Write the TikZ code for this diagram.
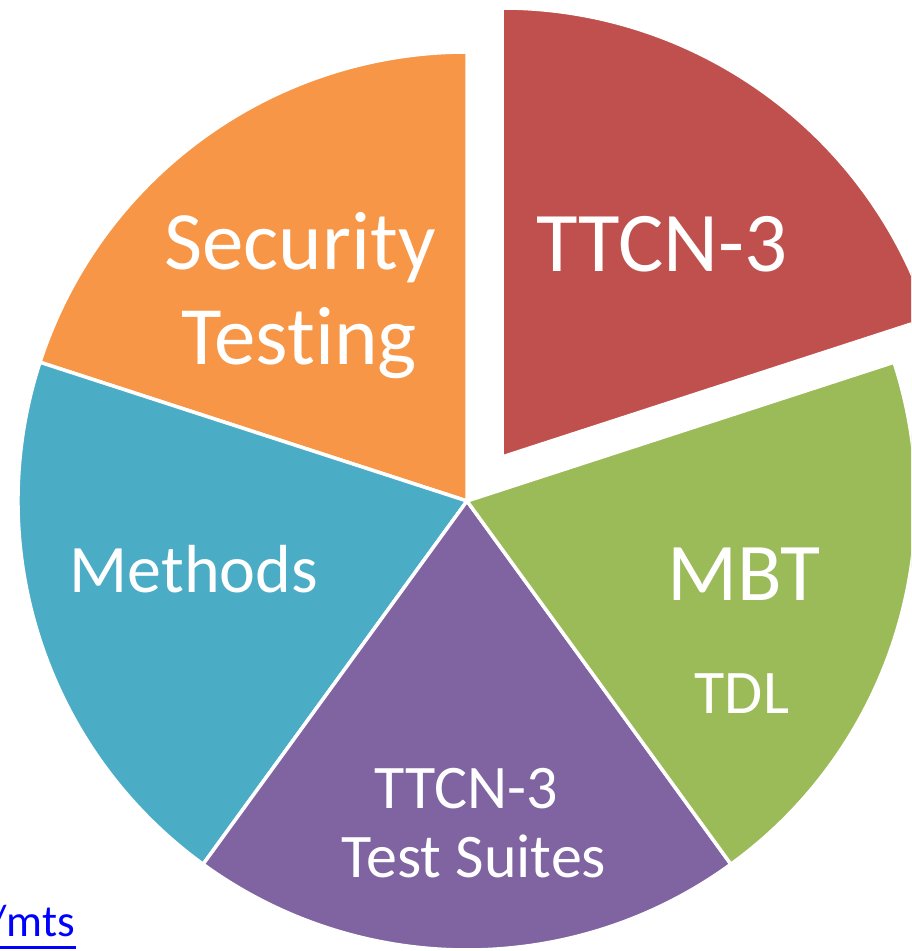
\documentclass[tikz,border=0pt]{standalone}
\usepackage{fontspec}
\setmainfont[Ligatures=NoCommon]{Carlito}
\definecolor{sred}{HTML}{C0504D}
\definecolor{sorange}{HTML}{F79646}
\definecolor{sblue}{HTML}{4BACC6}
\definecolor{spurple}{HTML}{8064A2}
\definecolor{sgreen}{HTML}{9BBB59}
\definecolor{linkblue}{HTML}{0000FF}
\tikzset{
  slice/.style={draw=white, line width=3.5pt, line join=round},
  lbl/.style={text=white, anchor=base, inner sep=0pt},
}
\newcommand{\pieslice}[4]{% color, start, end, centre
  \fill[slice, fill=#1] (#4) -- ++(#2:449) arc[start angle=#2, end angle=#3, radius=449] -- cycle;
}
\begin{document}
\begin{tikzpicture}[x=1pt,y=1pt]
\useasboundingbox (0,0) rectangle (911,951);
\clip (0,0) rectangle (911,951);
\coordinate (c) at (467,450);
\coordinate (cr) at (502,494);
\pieslice{sorange}{90}{162}{c}
\pieslice{sblue}{162}{234}{c}
\pieslice{spurple}{234}{306}{c}
\pieslice{sgreen}{306}{378}{c}
\pieslice{sred}{18}{90}{cr}
\node[lbl, font=\fontsize{85}{100}\selectfont] (ttcn) at (662,679) {TTCN-3};
\node[lbl, font=\fontsize{83}{95}\selectfont] (secA) at (300,681) {Security};
\node[lbl, font=\fontsize{83}{95}\selectfont] (secB) at (299,586) {Testing};
\node[lbl, font=\fontsize{68}{80}\selectfont] (meth) at (194,358) {Methods};
\node[lbl, font=\fontsize{82}{95}\selectfont] (mbt) at (744,350) {MBT};
\node[lbl, font=\fontsize{62}{72}\selectfont] (tdl) at (742,237) {TDL};
\node[lbl, font=\fontsize{62}{72}\selectfont] (tsA) at (466,142) {TTCN-3};
\node[lbl, font=\fontsize{62}{72}\selectfont] (tsB) at (474,73) {Test Suites};
\node[anchor=base east, inner sep=0pt, text=linkblue, font=\fontsize{45}{54}\selectfont] (link) at (75,14) {/mts};
\draw[linkblue, line width=3pt] ([yshift=-10.5pt]link.base west) -- ([yshift=-10.5pt, xshift=1pt]link.base east);
\end{tikzpicture}
\end{document}
